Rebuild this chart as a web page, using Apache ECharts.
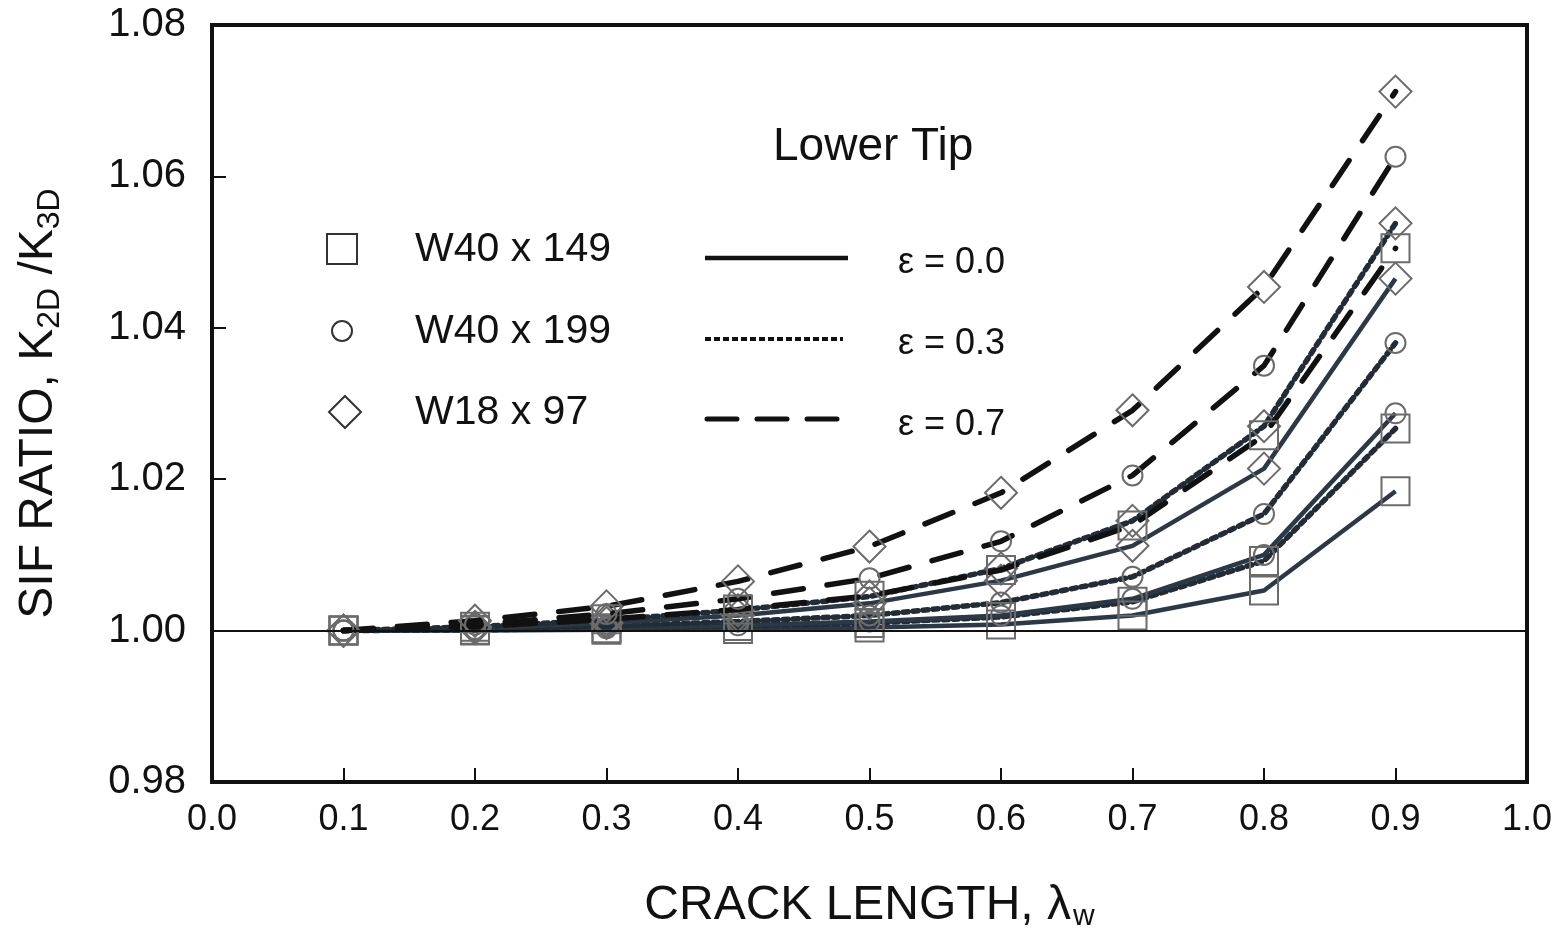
<!DOCTYPE html>
<html>
<head>
<meta charset="utf-8">
<script src="https://cdn.jsdelivr.net/npm/echarts@6/dist/echarts.min.js"></script>
<style>
  html, body { margin: 0; padding: 0; background: #fff; }
  #chart { width: 1562px; height: 929px; }
</style>
</head>
<body>
<div id="chart"></div>
<script>
// crack length values
var crackLength = [0.1, 0.2, 0.3, 0.4, 0.5, 0.6, 0.7, 0.8, 0.9];

// W40 x 149 (square)
var w40x149_e00 = [1.0000, 1.0000, 1.0001, 1.0002, 1.0004, 1.0008, 1.0020, 1.0053, 1.0184];
var w40x149_e03 = [1.0000, 1.0001, 1.0003, 1.0006, 1.0010, 1.0018, 1.0038, 1.0092, 1.0267];
var w40x149_e07 = [1.0000, 1.0005, 1.0015, 1.0028, 1.0046, 1.0080, 1.0139, 1.0258, 1.0505];
// W40 x 199 (circle)
var w40x199_e00 = [1.0000, 1.0001, 1.0003, 1.0007, 1.0012, 1.0020, 1.0042, 1.0100, 1.0287];
var w40x199_e03 = [1.0000, 1.0002, 1.0006, 1.0012, 1.0020, 1.0037, 1.0071, 1.0154, 1.0380];
var w40x199_e07 = [1.0000, 1.0008, 1.0022, 1.0042, 1.0069, 1.0118, 1.0205, 1.0350, 1.0626];
// W18 x 97 (diamond)
var w18x97_e00 = [1.0000, 1.0003, 1.0010, 1.0020, 1.0036, 1.0066, 1.0112, 1.0214, 1.0465];
var w18x97_e03 = [1.0000, 1.0005, 1.0014, 1.0027, 1.0045, 1.0082, 1.0145, 1.0270, 1.0538];
var w18x97_e07 = [1.0000, 1.0013, 1.0032, 1.0065, 1.0111, 1.0182, 1.0291, 1.0454, 1.0712];

var FONT = '"Liberation Sans", Arial, sans-serif';
var SOLID = '#2b3845', DOT = '#222c36', DASH = '#111111', MARK = '#6b6b6b';

function pairs(ys) {
	return crackLength.map(function (x, i) { return [x, ys[i]]; });
}

// one curve: shape + line style
function curve(name, ys, symbol, size, style) {
	var ls;
	if (style == 'solid') ls = { color: SOLID, width: 4.5, type: 'solid' };
	else if (style == 'dot') ls = { color: DOT, width: 5.5, type: [5, 5], cap: 'round' };
	else ls = { color: DASH, width: 5.5, type: [30, 24], cap: 'round' };
	return {
		name: name,
		type: 'line',
		data: pairs(ys),
		symbol: symbol,
		symbolSize: size,
		showSymbol: true,
		lineStyle: ls,
		itemStyle: { color: 'rgba(255,255,255,0)', borderColor: MARK, borderWidth: 2 },
		z: style == 'dash' ? 4 : 3,
		animation: false
	};
}

var chart = echarts.init(document.getElementById('chart'));

var series = [
	curve('W40x149 e=0.0', w40x149_e00, 'rect', 28, 'solid'),
	curve('W40x149 e=0.3', w40x149_e03, 'rect', 28, 'dot'),
	curve('W40x149 e=0.7', w40x149_e07, 'rect', 28, 'dash'),
	curve('W40x199 e=0.0', w40x199_e00, 'circle', 20, 'solid'),
	curve('W40x199 e=0.3', w40x199_e03, 'circle', 20, 'dot'),
	curve('W40x199 e=0.7', w40x199_e07, 'circle', 20, 'dash'),
	curve('W18x97 e=0.0', w18x97_e00, 'diamond', 32, 'solid'),
	curve('W18x97 e=0.3', w18x97_e03, 'diamond', 32, 'dot'),
	curve('W18x97 e=0.7', w18x97_e07, 'diamond', 32, 'dash')
];
// reference line at 1.00
series[0].markLine = {
	silent: true,
	symbol: 'none',
	label: { show: false },
	lineStyle: { color: '#111', width: 2, type: 'solid' },
	data: [{ yAxis: 1.0 }]
};

function txt(x, y, s, size) {
	return { type: 'text', left: x, top: y, style: { text: s, fill: '#111', font: (size || 41) + 'px ' + FONT } };
}

var option = {
	backgroundColor: '#fff',
	animation: false,
	grid: {
		left: 212, right: 35, top: 25, bottom: 147,
		outerBoundsMode: 'none',
		containLabel: false,
		show: true, borderColor: '#111', borderWidth: 4, backgroundColor: 'transparent'
	},
	xAxis: {
		type: 'value',
		min: 0, max: 1, interval: 0.1,
		name: 'CRACK LENGTH, λ{sub|w}',
		nameLocation: 'middle',
		nameGap: 98,
		nameTextStyle: {
			fontFamily: FONT, fontSize: 48, color: '#111',
			rich: { sub: { fontFamily: FONT, fontSize: 30, color: '#111', verticalAlign: 'bottom', padding: [22, 0, 0, 2] } }
		},
		axisLine: { show: true, lineStyle: { color: '#111', width: 4 } },
		axisTick: { show: true, inside: true, length: 14, lineStyle: { color: '#111', width: 2 } },
		axisLabel: {
			margin: 20, fontFamily: FONT, fontSize: 36, color: '#111',
			formatter: function (v) { return v.toFixed(1); }
		},
		splitLine: { show: false }
	},
	yAxis: {
		type: 'value',
		min: 0.98, max: 1.08, interval: 0.02,
		name: 'SIF RATIO, K{sub|2D} /K{sub|3D}',
		nameLocation: 'middle',
		nameRotate: 90,
		nameGap: 146,
		nameTextStyle: {
			fontFamily: FONT, fontSize: 48, color: '#111',
			rich: { sub: { fontFamily: FONT, fontSize: 32, color: '#111', verticalAlign: 'bottom', padding: [22, 0, 0, 0] } }
		},
		axisLine: { show: true, lineStyle: { color: '#111', width: 4 } },
		axisTick: { show: true, inside: true, length: 14, lineStyle: { color: '#111', width: 2 } },
		axisLabel: {
			margin: 26, fontFamily: FONT, fontSize: 40, color: '#111',
			formatter: function (v) { return v.toFixed(2); }
		},
		splitLine: { show: false }
	},
	graphic: [
		txt(773, 124, 'Lower Tip', 46),
		// shape keys
		{ type: 'rect', shape: { x: 327, y: 234, width: 30, height: 30 }, style: { fill: 'none', stroke: '#333', lineWidth: 2 } },
		{ type: 'circle', shape: { cx: 342, cy: 331, r: 10 }, style: { fill: 'none', stroke: '#333', lineWidth: 2 } },
		{ type: 'polygon', shape: { points: [[345, 396], [361, 412], [345, 428], [329, 412]] }, style: { fill: 'none', stroke: '#333', lineWidth: 2 } },
		txt(415, 229, 'W40 x 149'),
		txt(415, 311, 'W40 x 199'),
		txt(415, 392, 'W18 x 97'),
		// line style keys
		{ type: 'line', shape: { x1: 705, y1: 258, x2: 848, y2: 258 }, style: { stroke: '#111', lineWidth: 4.5 } },
		{ type: 'line', shape: { x1: 705, y1: 339, x2: 843, y2: 339 }, style: { stroke: '#111', lineWidth: 4, lineDash: [6, 3] } },
		{ type: 'line', shape: { x1: 707, y1: 419, x2: 838, y2: 419 }, style: { stroke: '#111', lineWidth: 5, lineDash: [30, 20], lineCap: 'round' } },
		txt(898, 245, 'ε = 0.0', 36),
		txt(898, 326, 'ε = 0.3', 36),
		txt(898, 407, 'ε = 0.7', 36)
	],
	series: series
};
chart.setOption(option);
</script>
</body>
</html>
